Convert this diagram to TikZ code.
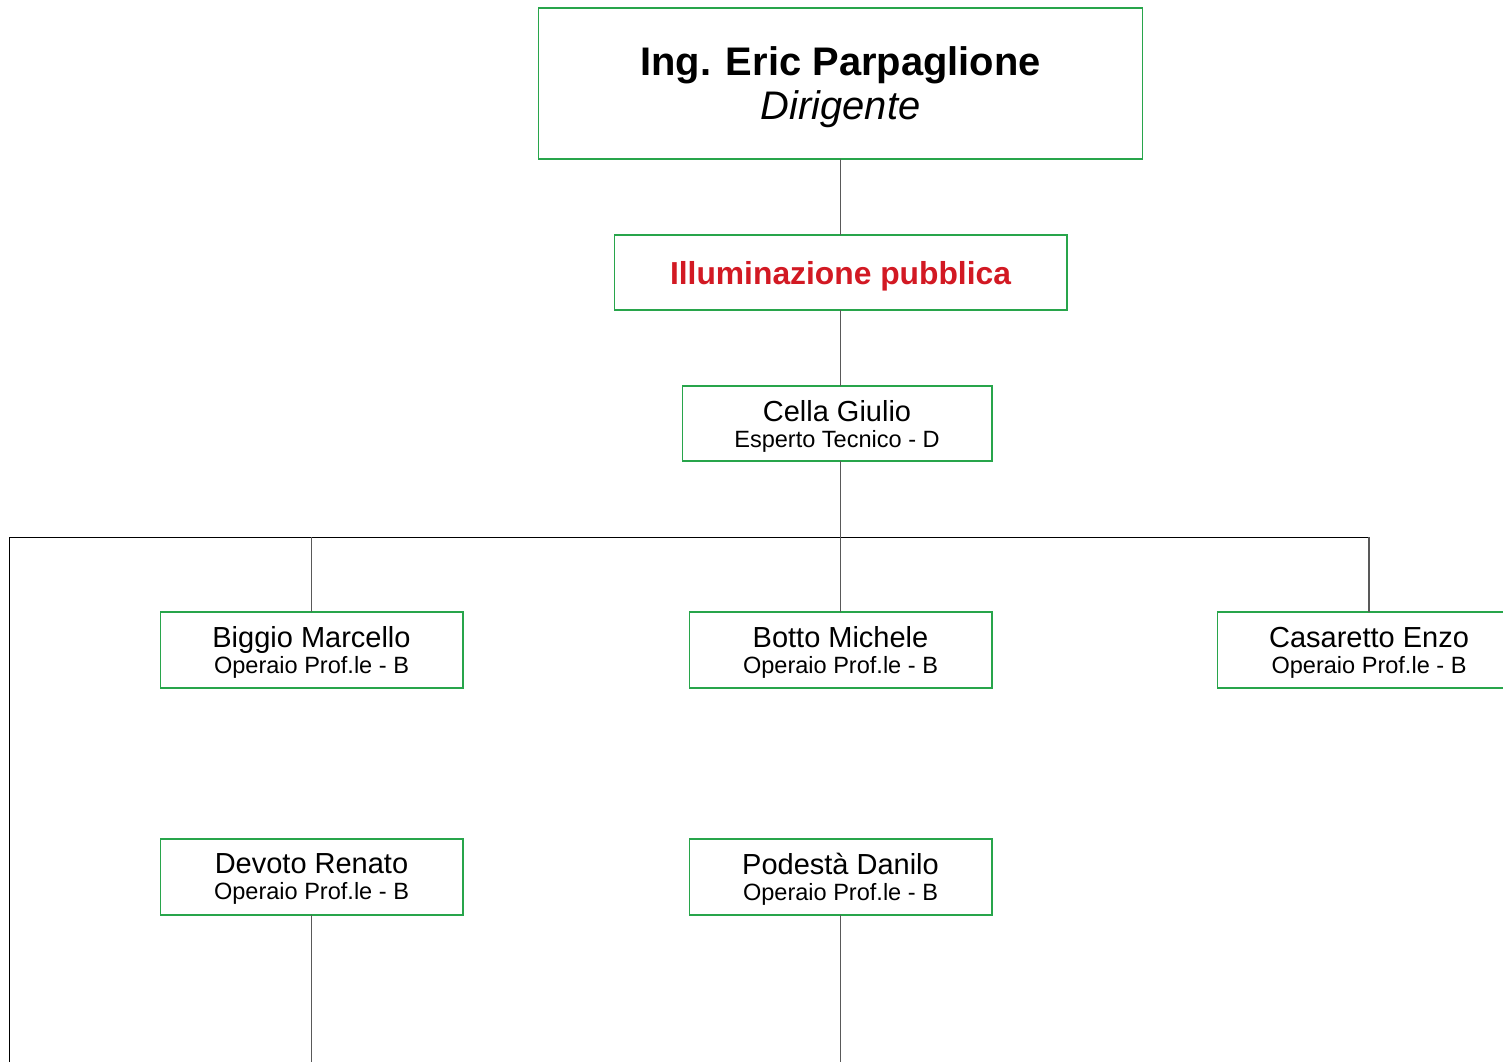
\documentclass[tikz,border=0pt]{standalone}
\usepackage{fontspec}
\setmainfont{Liberation Sans}
\definecolor{boxgreen}{RGB}{40,165,75}
\definecolor{unitred}{RGB}{210,25,35}
\tikzset{
  box/.style={draw=boxgreen,line width=0.6pt,inner sep=0pt,outer sep=0pt,align=center,text depth=0pt,
    minimum width=6.06cm,minimum height=1.52cm,font=\fontsize{13.4}{14.8}\selectfont},
  link/.style={draw=black!65,line width=0.6pt},
  bus/.style={draw=black,line width=0.5pt},
}
\newcommand{\person}[2]{{\fontsize{16.5}{18}\selectfont #1}\\#2}
\begin{document}
\begin{tikzpicture}[x=0.02cm,y=-0.02cm]
\useasboundingbox (0,0) rectangle (1503,1062);
\node [box,minimum width=12.1cm,minimum height=3.02cm,font=\fontsize{22.7}{25}\selectfont] (v0) at (840.5,83.5) {{\bfseries Ing. Eric Parpaglione}\\{\itshape Dirigente}};
\node [box,minimum width=9.06cm,minimum height=1.5cm,font=\fontsize{18.1}{20}\selectfont\bfseries,text=unitred] (v1) at (840.5,272.5) {Illuminazione pubblica};
\node [box,minimum width=6.2cm,minimum height=1.5cm] (v2) at (837,423.5) {\person{Cella Giulio}{Esperto Tecnico - D}};
\node [box] (v3) at (311.5,650) {\person{Biggio Marcello}{Operaio Prof.le - B}};
\node [box] (v4) at (840.5,650) {\person{Botto Michele}{Operaio Prof.le - B}};
\node [box] (v5) at (1369,650) {\person{Casaretto Enzo}{Operaio Prof.le - B}};
\node [box] (v6) at (311.5,877) {\person{Devoto Renato}{Operaio Prof.le - B}};
\node [box] (v7) at (840.5,877) {\person{Podestà Danilo}{Operaio Prof.le - B}};
\coordinate (b0) at (9,537);
\coordinate (b1) at (1369,537);
\coordinate (b2) at (9,1062);
\draw [link] (v0) -- (v1);
\draw [link] (v1.south) -- (v1.south |- v2.north);
\draw [link] (v1.south |- v2.south) -- (v1.south |- b0);
\draw [bus] (b2) -- (b0) -- (b1);
\draw [link] (v3.north) -- (v3.north |- b0);
\draw [link] (v4.north) -- (v4.north |- b0);
\draw [link] (v5.north) -- (b1);
\draw [link] (v6.south) -- (v6.south |- b2);
\draw [link] (v7.south) -- (v7.south |- b2);
\end{tikzpicture}
\end{document}
